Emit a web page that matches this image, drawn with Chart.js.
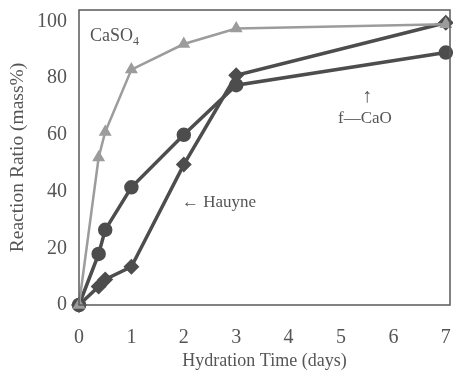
<!DOCTYPE html>
<html>
<head>
<meta charset="utf-8">
<script src="https://cdn.jsdelivr.net/npm/chart.js@4"></script>
<style>
  html, body { margin: 0; padding: 0; background: #fff; }
  #wrap { width: 453px; height: 372px; }
</style>
</head>
<body>
<div id="wrap"><canvas id="chart" width="453" height="372"></canvas></div>
<script>
// Hydration time (days) and reaction ratio (mass%) per phase
const caso4Days = [0, 0.375, 0.5, 1, 2, 3, 7];
const caso4Ratio = [0, 52, 61, 83, 92, 97.5, 99];
const fcaoDays = [0, 0.375, 0.5, 1, 2, 3, 7];
const fcaoRatio = [0, 18, 26.5, 41.5, 60, 77.5, 89];
const hauyneDays = [0, 0.375, 0.5, 1, 2, 3, 7];
const hauyneRatio = [0, 6.5, 9, 13.5, 49.5, 81, 99.5];
const xTicks = [0, 1, 2, 3, 4, 5, 6, 7];
const yTicks = [0, 20, 40, 60, 80, 100];

const colors = {
    dark: '#4d4d4d',
    light: '#9c9c9c',
    text: '#555555',
    frame: '#5a5a5a'
};
const serif = "'Liberation Serif', 'DejaVu Serif', serif";

function toPoints(xs, ys) {
    return xs.map((x, i) => ({ x: x, y: ys[i] }));
}

// Keep the plot box where the reference has it
function noPad(scale) {
    scale.paddingTop = 0;
    scale.paddingBottom = 0;
    scale.paddingLeft = 0;
    scale.paddingRight = 0;
}

// Box frame round the plot area plus the text notes inside it
const framePlugin = {
    id: 'frame',
    afterDraw(chart) {
        const { ctx, chartArea: a } = chart;
        ctx.save();
        ctx.strokeStyle = colors.frame;
        ctx.lineWidth = 1.5;
        ctx.strokeRect(a.left, a.top, a.right - a.left, a.bottom - a.top);

        ctx.fillStyle = colors.text;
        ctx.textBaseline = 'alphabetic';
        ctx.font = '18px ' + serif;
        // CaSO4 label with subscript
        ctx.fillText('CaSO', 90, 41);
        const w = ctx.measureText('CaSO').width;
        ctx.font = '12px ' + serif;
        ctx.fillText('4', 90 + w, 45);

        ctx.font = '17px ' + serif;
        ctx.fillText('\u2190 Hauyne', 182, 207);
        ctx.fillText('f\u2014CaO', 338, 123);
        ctx.font = '20px ' + serif;
        ctx.textAlign = 'center';
        ctx.fillText('\u2191', 367, 102);
        ctx.restore();
    }
};

const data = {
    datasets: [
        {
            label: 'CaSO4',
            data: toPoints(caso4Days, caso4Ratio),
            borderColor: colors.light,
            backgroundColor: colors.light,
            borderWidth: 2.5,
            pointStyle: 'triangle',
            pointRadius: 5,
            tension: 0
        },
        {
            label: 'f-CaO',
            data: toPoints(fcaoDays, fcaoRatio),
            borderColor: colors.dark,
            backgroundColor: colors.dark,
            borderWidth: 3.5,
            pointStyle: 'circle',
            pointRadius: 5.5,
            tension: 0
        },
        {
            label: 'Hauyne',
            data: toPoints(hauyneDays, hauyneRatio),
            borderColor: colors.dark,
            backgroundColor: colors.dark,
            borderWidth: 3.5,
            pointStyle: 'rectRot',
            pointRadius: 5.5,
            tension: 0
        }
    ]
};

new Chart(document.getElementById('chart'), {
    type: 'scatter',
    data: data,
    options: {
        responsive: false,
        animation: false,
        showLine: true,
        clip: false,
        layout: { autoPadding: false, padding: { top: 10, right: 3, left: 0, bottom: 0 } },
        plugins: {
            legend: { display: false },
            tooltip: { enabled: false }
        },
        scales: {
            x: {
                type: 'linear',
                min: 0,
                max: 7.08,
                afterBuildTicks: (scale) => { scale.ticks = xTicks.map(v => ({ value: v })); },
                afterFit: (scale) => { scale.height = 67; noPad(scale); },
                grid: { display: false, drawTicks: false },
                border: { display: false },
                ticks: {
                    color: colors.text,
                    padding: 21,
                    font: { family: serif, size: 20 }
                },
                title: {
                    display: true,
                    text: 'Hydration Time (days)',
                    color: colors.text,
                    padding: { top: 4, bottom: 0 },
                    font: { family: serif, size: 18 }
                }
            },
            y: {
                min: 0,
                max: 104,
                afterBuildTicks: (scale) => { scale.ticks = yTicks.map(v => ({ value: v })); },
                afterFit: (scale) => { scale.width = 79; noPad(scale); },
                grid: { display: false, drawTicks: false },
                border: { display: false },
                ticks: {
                    color: colors.text,
                    padding: 12,
                    font: { family: serif, size: 20 }
                },
                title: {
                    display: true,
                    text: 'Reaction Ratio (mass%)',
                    color: colors.text,
                    padding: { top: 6, bottom: 2 },
                    font: { family: serif, size: 19.5 }
                }
            }
        }
    },
    plugins: [framePlugin]
});
</script>
</body>
</html>
